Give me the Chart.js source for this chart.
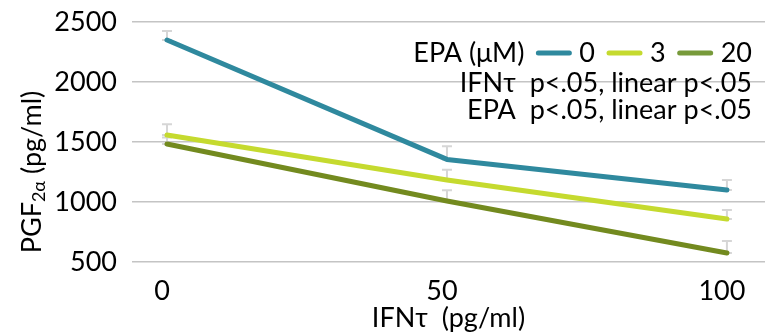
<!DOCTYPE html>
<html>
<head>
<meta charset="utf-8">
<script src="https://cdn.jsdelivr.net/npm/chart.js@4"></script>
<style>
  html, body { margin: 0; padding: 0; background: #fff; }
  #wrap { width: 765px; height: 333px; }
</style>
</head>
<body>
<div id="wrap"><canvas id="myChart"></canvas></div>
<script>
const ifnDoses = [0, 50, 100];
const epaLabels = ['0', '3', '20'];
const epa0 = [2350, 1355, 1100];
const epa3 = [1558, 1183, 858];
const epa20 = [1483, 1008, 575];
const err0 = [75, 110, 83];
const err3 = [90, 85, 75];
const err20 = [55, 90, 100];
const yTicks = [500, 1000, 1500, 2000, 2500];
const statLines = ['IFN\u03c4  p<.05, linear p<.05', 'EPA  p<.05, linear p<.05'];

const colors = ['#2f899e', '#c5da2f', '#738a1f'];
const legendColors = ['#2f899e', '#c5da2f', '#779a3a'];
const FONT = 'Lato, Carlito, sans-serif';

const series = [epa0, epa3, epa20];
const errors = [err0, err3, err20];

const data = {
  datasets: series.map((vals, i) => ({
    label: epaLabels[i],
    data: ifnDoses.map((d, j) => ({ x: d, y: vals[j] })),
    borderColor: colors[i],
    backgroundColor: colors[i],
    borderWidth: 5,
    borderCapStyle: 'round',
    borderJoinStyle: 'round',
    pointRadius: 0,
    tension: 0,
    errUp: errors[i],
  })),
};

const errorBars = {
  id: 'errorBars',
  beforeDatasetsDraw(chart) {
    const ctx = chart.ctx;
    const ys = chart.scales.y;
    ctx.save();
    ctx.strokeStyle = '#d6d6d6';
    ctx.lineWidth = 2;
    chart.data.datasets.forEach((ds, i) => {
      chart.getDatasetMeta(i).data.forEach((pt, j) => {
        const v = ds.data[j].y;
        const top = ys.getPixelForValue(v + ds.errUp[j]);
        const bot = ys.getPixelForValue(v);
        ctx.beginPath();
        ctx.moveTo(pt.x, top); ctx.lineTo(pt.x, bot);
        ctx.moveTo(pt.x - 5, top); ctx.lineTo(pt.x + 5, top);
        ctx.moveTo(pt.x - 5, bot); ctx.lineTo(pt.x + 5, bot);
        ctx.stroke();
      });
    });
    ctx.restore();
  }
};

const extras = {
  id: 'extras',
  afterDraw(chart) {
    const ctx = chart.ctx;
    const area = chart.chartArea;
    ctx.save();
    ctx.fillStyle = '#000';
    ctx.textBaseline = 'middle';

    // legend row, right aligned
    ctx.font = '27px ' + FONT;
    let x = 752;
    const rowY = 53;
    ctx.textAlign = 'right';
    for (let i = epaLabels.length - 1; i >= 0; i--) {
      ctx.fillText(epaLabels[i], x, rowY);
      x -= ctx.measureText(epaLabels[i]).width + 10;
      ctx.strokeStyle = legendColors[i];
      ctx.lineWidth = 5;
      ctx.lineCap = 'round';
      ctx.beginPath();
      ctx.moveTo(x - 31, rowY); ctx.lineTo(x, rowY);
      ctx.stroke();
      x -= 31 + 14;
    }
    ctx.fillText('EPA (\u03bcM)', x, rowY);
    statLines.forEach((t, k) => ctx.fillText(t, 752, 83 + k * 27));

    // x title
    ctx.textAlign = 'center';
    ctx.fillText('IFN\u03c4  (pg/ml)', (area.left + area.right) / 2, 318);

    // y title with subscript
    ctx.translate(32, 172);
    ctx.rotate(-Math.PI / 2);
    const big = '27px ' + FONT, small = '18px ' + FONT;
    ctx.font = big; const w1 = ctx.measureText('PGF').width;
    const w3 = ctx.measureText(' (pg/ml)').width;
    ctx.font = small; const w2 = ctx.measureText('2\u03b1').width;
    let sx = -(w1 + w2 + w3) / 2;
    ctx.textAlign = 'left';
    ctx.font = big; ctx.fillText('PGF', sx, 0); sx += w1;
    ctx.font = small; ctx.fillText('2\u03b1', sx, 7); sx += w2;
    ctx.font = big; ctx.fillText(' (pg/ml)', sx, 0);
    ctx.restore();
  }
};

const config = {
  type: 'line',
  data: data,
  options: {
    responsive: true,
    maintainAspectRatio: false,
    animation: false,
    layout: { padding: { top: 22, right: 0, left: 0, bottom: 0 } },
    plugins: { legend: { display: false }, tooltip: { enabled: false } },
    scales: {
      x: {
        type: 'linear',
        min: -6.25,
        max: 106.8,
        afterBuildTicks: s => { s.ticks = ifnDoses.map(v => ({ value: v })); },
        afterFit: s => { s.height = 71; s.paddingLeft = 0; s.paddingRight = 0; },
        grid: { display: false },
        border: { display: false },
        ticks: { color: '#000', font: { family: FONT, size: 27 }, padding: 5, labelOffset: -5, maxRotation: 0, callback: v => String(v) },
      },
      y: {
        min: 500,
        max: 2500,
        afterBuildTicks: s => { s.ticks = yTicks.map(v => ({ value: v })); },
        afterFit: s => { s.width = 132; s.paddingTop = 0; s.paddingBottom = 0; },
        grid: { color: '#c4c4c4', lineWidth: 1.5, drawTicks: false },
        border: { display: false },
        ticks: { color: '#000', font: { family: FONT, size: 27 }, padding: 15, callback: v => String(v) },
      },
    },
  },
  plugins: [errorBars, extras],
};

const myChart = new Chart(document.getElementById('myChart'), config);
</script>
</body>
</html>
